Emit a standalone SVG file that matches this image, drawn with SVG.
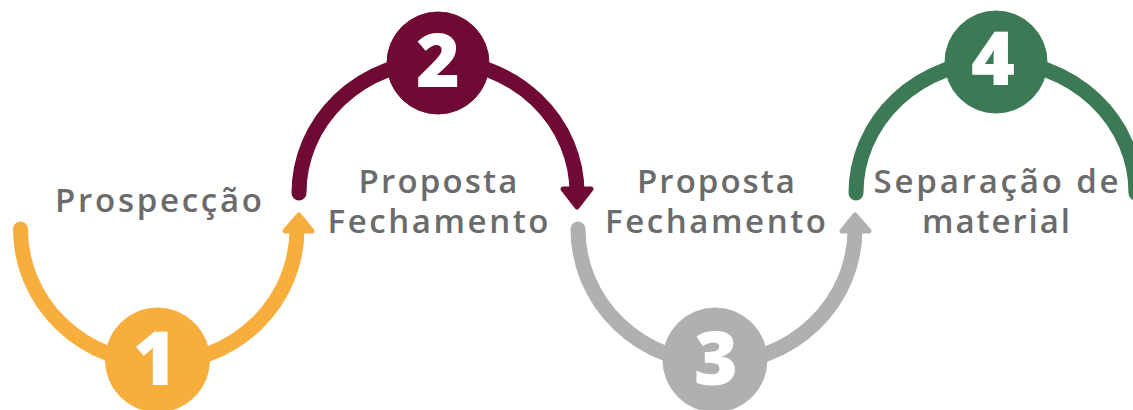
<svg xmlns="http://www.w3.org/2000/svg" width="1133" height="410" viewBox="0 0 1133 410">
<style>
.arc{fill:none;stroke-width:15;stroke-linecap:round}
.head{stroke-width:5;stroke-linejoin:round}
.lbl{font-family:"Open Sans","Liberation Sans",sans-serif;font-weight:600;font-size:33px;fill:#6b6b6b;text-anchor:middle}
.num{font-family:"Open Sans","Liberation Sans",sans-serif;font-weight:800;font-size:75px;fill:#ffffff;text-anchor:middle}
.o{stroke:#f8ae3c;fill:#f8ae3c}
.m{stroke:#6e0a33;fill:#6e0a33}
.g{stroke:#b0b0b0;fill:#b0b0b0}
.v{stroke:#3c7a55;fill:#3c7a55}
</style>
<rect width="1133" height="410" fill="#ffffff"/>
<g id="connectors">
<path class="arc o" style="fill:none" d="M 20.5 229 A 138.25 134 0 0 0 297 229"/>
<polygon class="head o" points="299,215 285,231 312,231"/>
<path class="arc m" style="fill:none" d="M 299 193 A 139 132 0 0 1 577 193"/>
<polygon class="head m" points="577,207 563,189 591,189"/>
<path class="arc g" style="fill:none" d="M 578 229 A 138.5 134 0 0 0 855 229"/>
<polygon class="head g" points="855,215 842,231 869,231"/>
<path class="arc v" style="fill:none" d="M 856 193 A 140 132 0 0 1 1136 193"/>
</g>
<g id="step1">
<circle class="o" cx="157.5" cy="360" r="52"/>
<text class="num" x="155" y="385">1</text>
<text class="lbl" x="158.5" y="212" textLength="207" lengthAdjust="spacing">Prospecção</text>
</g>
<g id="step2">
<circle class="m" cx="438" cy="63" r="51"/>
<text class="num" x="438" y="87">2</text>
<text class="lbl" x="438" y="193" textLength="159" lengthAdjust="spacing">Proposta</text>
<text class="lbl" x="438" y="233" textLength="221" lengthAdjust="spacing">Fechamento</text>
</g>
<g id="step3">
<circle class="g" cx="715" cy="360" r="52"/>
<text class="num" x="716" y="385">3</text>
<text class="lbl" x="716" y="193" textLength="158" lengthAdjust="spacing">Proposta</text>
<text class="lbl" x="715.5" y="233" textLength="221" lengthAdjust="spacing">Fechamento</text>
</g>
<g id="step4">
<circle class="v" cx="996" cy="62" r="51"/>
<text class="num" x="993" y="85">4</text>
<text class="lbl" x="996" y="193" textLength="245" lengthAdjust="spacing">Separação de</text>
<text class="lbl" x="996" y="233" textLength="148" lengthAdjust="spacing">material</text>
</g>
</svg>
